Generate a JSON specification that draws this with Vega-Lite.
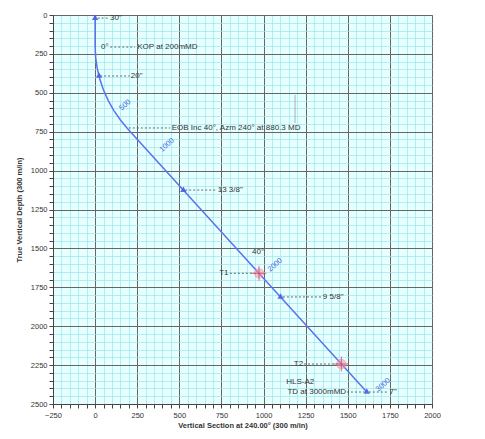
{
  "$schema": "https://vega.github.io/schema/vega-lite/v6.json",
  "autosize": {"type": "none"},
  "width": 379,
  "height": 389,
  "padding": {"left": 53, "top": 15, "right": 53, "bottom": 35},
  "background": "white",
  "config": {
    "view": {"fill": "#e8ffff", "stroke": "#888888"},
    "font": "Liberation Sans",
    "text": {"font": "Liberation Sans"}
  },
  "datasets": {
    "traj": [
      {"o": 0, "vs": 0, "tvd": 0},
      {"o": 1, "vs": 0, "tvd": 200},
      {"o": 2, "vs": 3.1, "tvd": 271.9},
      {"o": 3, "vs": 12.5, "tvd": 343.3},
      {"o": 4, "vs": 28.1, "tvd": 413.5},
      {"o": 5, "vs": 49.8, "tvd": 482.2},
      {"o": 6, "vs": 77.3, "tvd": 548.6},
      {"o": 7, "vs": 110.5, "tvd": 612.5},
      {"o": 8, "vs": 149.2, "tvd": 673.2},
      {"o": 9, "vs": 193, "tvd": 730.3},
      {"o": 10, "vs": 1613, "tvd": 2423}
    ],
    "casing": [
      {"vs": 0, "tvd": 20},
      {"vs": 23, "tvd": 392},
      {"vs": 524, "tvd": 1125},
      {"vs": 1101, "tvd": 1812},
      {"vs": 1613, "tvd": 2423}
    ],
    "dashes": [
      {"vs": 15, "vs2": 80, "tvd": 20},
      {"vs": 90, "vs2": 237, "tvd": 206},
      {"vs": 30, "vs2": 205, "tvd": 392},
      {"vs": 200, "vs2": 445, "tvd": 726},
      {"vs": 535, "vs2": 720, "tvd": 1125},
      {"vs": 800, "vs2": 960, "tvd": 1660},
      {"vs": 1115, "vs2": 1345, "tvd": 1812},
      {"vs": 1240, "vs2": 1450, "tvd": 2243},
      {"vs": 1495, "vs2": 1600, "tvd": 2423},
      {"vs": 1625, "vs2": 1740, "tvd": 2423}
    ],
    "marks": [
      {"vs": 1187, "tvd": 514, "tvd2": 694}
    ],
    "targets": [
      {"vs": 973, "tvd": 1660},
      {"vs": 1462, "tvd": 2243}
    ],
    "leftText": [
      {"vs": 88, "tvd": 20, "t": "30\""},
      {"vs": 35, "tvd": 206, "t": "0°"},
      {"vs": 250, "tvd": 206, "t": "KOP at 200mMD"},
      {"vs": 212, "tvd": 392, "t": "20\""},
      {"vs": 455, "tvd": 726, "t": "EOB Inc 40°, Azm 240° at 880.3 MD"},
      {"vs": 728, "tvd": 1125, "t": "13 3/8\""},
      {"vs": 1352, "tvd": 1812, "t": "9 5/8\""},
      {"vs": 1748, "tvd": 2423, "t": "7\""}
    ],
    "rightText": [
      {"vs": 792, "tvd": 1660, "t": "T1"},
      {"vs": 1235, "tvd": 2243, "t": "T2"},
      {"vs": 1490, "tvd": 2423, "t": "TD at 3000mMD"}
    ],
    "centerText": [
      {"vs": 1218, "tvd": 2359, "t": "HLS-A2"},
      {"vs": 968, "tvd": 1523, "t": "40°"}
    ],
    "mdText": [
      {"vs": 178, "tvd": 579, "t": "500"},
      {"vs": 427, "tvd": 836, "t": "1000"},
      {"vs": 1069, "tvd": 1607, "t": "2000"},
      {"vs": 1710, "tvd": 2378, "t": "3000"}
    ]
  },
  "layer": [
    {
      "data": {"name": "traj"},
      "mark": {"type": "line", "color": "#5a72ee", "strokeWidth": 1.5},
      "encoding": {
        "x": {
          "field": "vs", "type": "quantitative",
          "scale": {"domain": [-250, 2000], "nice": false, "zero": false},
          "axis": {
            "title": "Vertical Section at 240.00° (300 m/in)",
            "tickCount": 200,
            "values": [-250,-200,-150,-100,-50,0,50,100,150,200,250,300,350,400,450,500,550,600,650,700,750,800,850,900,950,1000,1050,1100,1150,1200,1250,1300,1350,1400,1450,1500,1550,1600,1650,1700,1750,1800,1850,1900,1950,2000],
            "format": "d",
            "labelExpr": "datum.value % 250 === 0 ? datum.label : ''",
            "labelOverlap": false,
            "labelFlush": false,
            "labelFontSize": 7.5,
            "labelColor": "#333333",
            "labelPadding": 3,
            "tickSize": 4,
            "tickColor": "#444444",
            "domainColor": "#444444",
            "gridColor": {"condition": {"test": "datum.value % 250 === 0", "value": "#666666"}, "value": "#98e6ee"},
            "gridWidth": {"condition": {"test": "datum.value % 250 === 0", "value": 1}, "value": 0.7},
            "titleFontSize": 7.5,
            "titleColor": "#333333",
            "titleFontWeight": "bold",
            "titlePadding": 3
          }
        },
        "y": {
          "field": "tvd", "type": "quantitative",
          "scale": {"domain": [0, 2500], "reverse": true, "nice": false, "zero": false},
          "axis": {
            "title": "True Vertical Depth (300 m/in)",
            "tickCount": 200,
            "values": [0,50,100,150,200,250,300,350,400,450,500,550,600,650,700,750,800,850,900,950,1000,1050,1100,1150,1200,1250,1300,1350,1400,1450,1500,1550,1600,1650,1700,1750,1800,1850,1900,1950,2000,2050,2100,2150,2200,2250,2300,2350,2400,2450,2500],
            "format": "d",
            "labelExpr": "datum.value % 250 === 0 ? datum.label : ''",
            "labelOverlap": false,
            "labelFlush": false,
            "labelFontSize": 7.5,
            "labelColor": "#333333",
            "labelPadding": 2,
            "tickSize": 4,
            "tickColor": "#444444",
            "domainColor": "#444444",
            "gridColor": {"condition": {"test": "datum.value % 250 === 0", "value": "#666666"}, "value": "#98e6ee"},
            "gridWidth": {"condition": {"test": "datum.value % 250 === 0", "value": 1}, "value": 0.7},
            "titleFontSize": 7.5,
            "titleColor": "#333333",
            "titleFontWeight": "bold",
            "titlePadding": 7
          }
        },
        "order": {"field": "o"}
      }
    },
    {
      "data": {"name": "dashes"},
      "mark": {"type": "rule", "color": "#444444", "strokeDash": [2, 2], "strokeWidth": 0.8},
      "encoding": {
        "x": {"field": "vs", "type": "quantitative"},
        "x2": {"field": "vs2"},
        "y": {"field": "tvd", "type": "quantitative"}
      }
    },
    {
      "data": {"name": "marks"},
      "mark": {"type": "rule", "color": "#9a9a9a", "strokeWidth": 0.8},
      "encoding": {
        "x": {"field": "vs", "type": "quantitative"},
        "y": {"field": "tvd", "type": "quantitative"},
        "y2": {"field": "tvd2"}
      }
    },
    {
      "data": {"name": "targets"},
      "mark": {"type": "point", "filled": true, "color": "#f090a8", "opacity": 0.55, "size": 110, "shape": "circle"},
      "encoding": {
        "x": {"field": "vs", "type": "quantitative"},
        "y": {"field": "tvd", "type": "quantitative"}
      }
    },
    {
      "data": {"name": "targets"},
      "mark": {"type": "point", "filled": false, "color": "#d8304a", "strokeWidth": 1, "size": 220, "shape": "M-1,0L1,0M0,-1L0,1"},
      "encoding": {
        "x": {"field": "vs", "type": "quantitative"},
        "y": {"field": "tvd", "type": "quantitative"}
      }
    },
    {
      "data": {"name": "casing"},
      "mark": {"type": "point", "filled": true, "color": "#4a5fe0", "opacity": 0.9, "size": 40, "shape": "triangle"},
      "encoding": {
        "x": {"field": "vs", "type": "quantitative"},
        "y": {"field": "tvd", "type": "quantitative"}
      }
    },
    {
      "data": {"name": "leftText"},
      "mark": {"type": "text", "align": "left", "baseline": "middle", "fontSize": 8, "color": "#333333"},
      "encoding": {
        "x": {"field": "vs", "type": "quantitative"},
        "y": {"field": "tvd", "type": "quantitative"},
        "text": {"field": "t"}
      }
    },
    {
      "data": {"name": "rightText"},
      "mark": {"type": "text", "align": "right", "baseline": "middle", "fontSize": 8, "color": "#333333"},
      "encoding": {
        "x": {"field": "vs", "type": "quantitative"},
        "y": {"field": "tvd", "type": "quantitative"},
        "text": {"field": "t"}
      }
    },
    {
      "data": {"name": "centerText"},
      "mark": {"type": "text", "align": "center", "baseline": "middle", "fontSize": 8, "color": "#333333"},
      "encoding": {
        "x": {"field": "vs", "type": "quantitative"},
        "y": {"field": "tvd", "type": "quantitative"},
        "text": {"field": "t"}
      }
    },
    {
      "data": {"name": "mdText"},
      "mark": {"type": "text", "align": "center", "baseline": "middle", "fontSize": 7.5, "angle": -42, "color": "#4466dd"},
      "encoding": {
        "x": {"field": "vs", "type": "quantitative"},
        "y": {"field": "tvd", "type": "quantitative"},
        "text": {"field": "t"}
      }
    }
  ]
}
